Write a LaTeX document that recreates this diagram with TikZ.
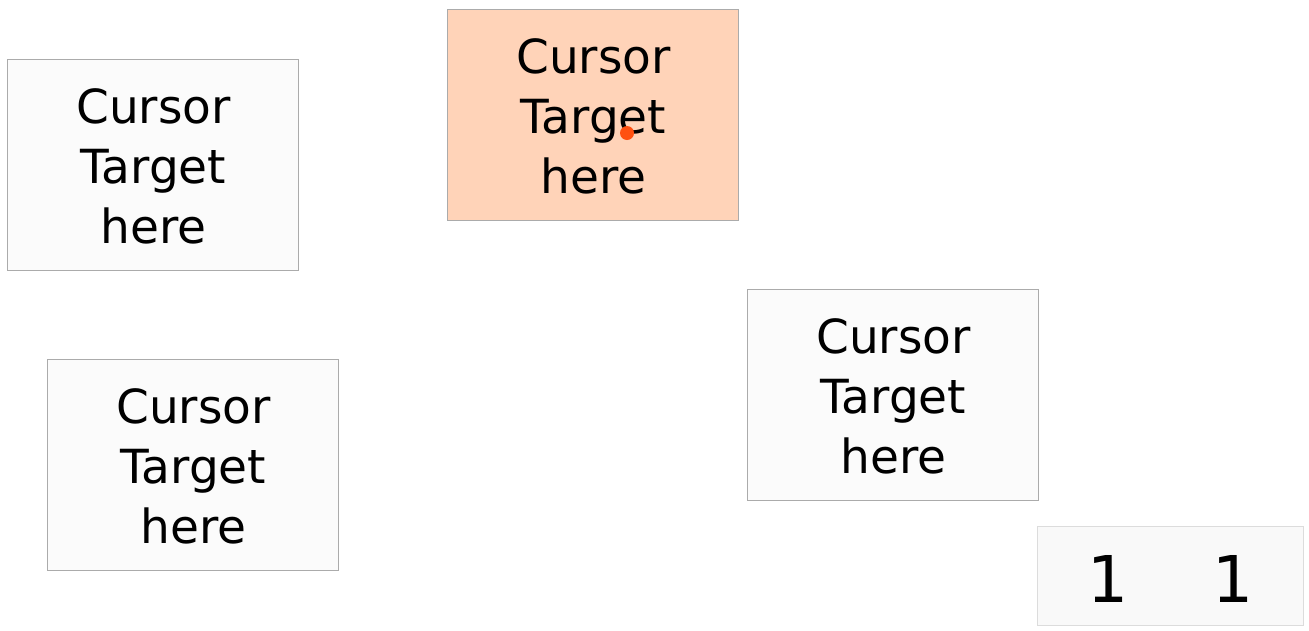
\documentclass[tikz,border=0pt]{standalone}
\usepackage{fontspec}
\setmainfont{DejaVu Sans}
\usetikzlibrary{calc}
\definecolor{boxfill}{HTML}{FBFBFB}
\definecolor{boxline}{HTML}{ABABAB}
\definecolor{peach}{HTML}{FFD3B8}
\definecolor{dotred}{HTML}{FF5010}
\definecolor{lightline}{HTML}{DCDCDC}
\definecolor{numfill}{HTML}{F9F9F9}
\tikzset{
  target/.style={draw=boxline, fill=boxfill, line width=1pt, minimum width=291pt, minimum height=211pt, inner sep=0pt},
  active/.style={target, fill=peach},
  lbl/.style={anchor=base, inner sep=0pt, font=\fontsize{47}{60}\selectfont},
  counter/.style={draw=lightline, fill=numfill, line width=1pt, minimum width=266pt, minimum height=99pt, inner sep=0pt},
  numtxt/.style={anchor=base, inner sep=0pt, font=\fontsize{64.5}{70}\selectfont},
  cursordot/.style={circle, fill=dotred, draw=none, minimum size=14pt, inner sep=0pt}
}
\begin{document}
\begin{tikzpicture}[x=1pt, y=-1pt]
\useasboundingbox[fill=white] (0,0) rectangle (1309,630);
\node[target] (a) at (152.5,164.5) {};
\node[active] (b) at (592.5,114.5) {};
\node[target] (c) at (192.5,464.5) {};
\node[target] (d) at (892.5,394.5) {};
\node[counter] (e) at (1170,576) {};
\foreach \b in {a,b,c,d} {
  \node[lbl] at ($(\b.north)+(1,65)$) {Cursor};
  \node[lbl] at ($(\b.north)+(1,125)$) {Target};
  \node[lbl] at ($(\b.north)+(1,185)$) {here};
}
\node[cursordot] (cur) at (627,133) {};
\node[numtxt] (n) at (1170.75,602) {1\hspace{83.5pt}1};
\end{tikzpicture}
\end{document}
